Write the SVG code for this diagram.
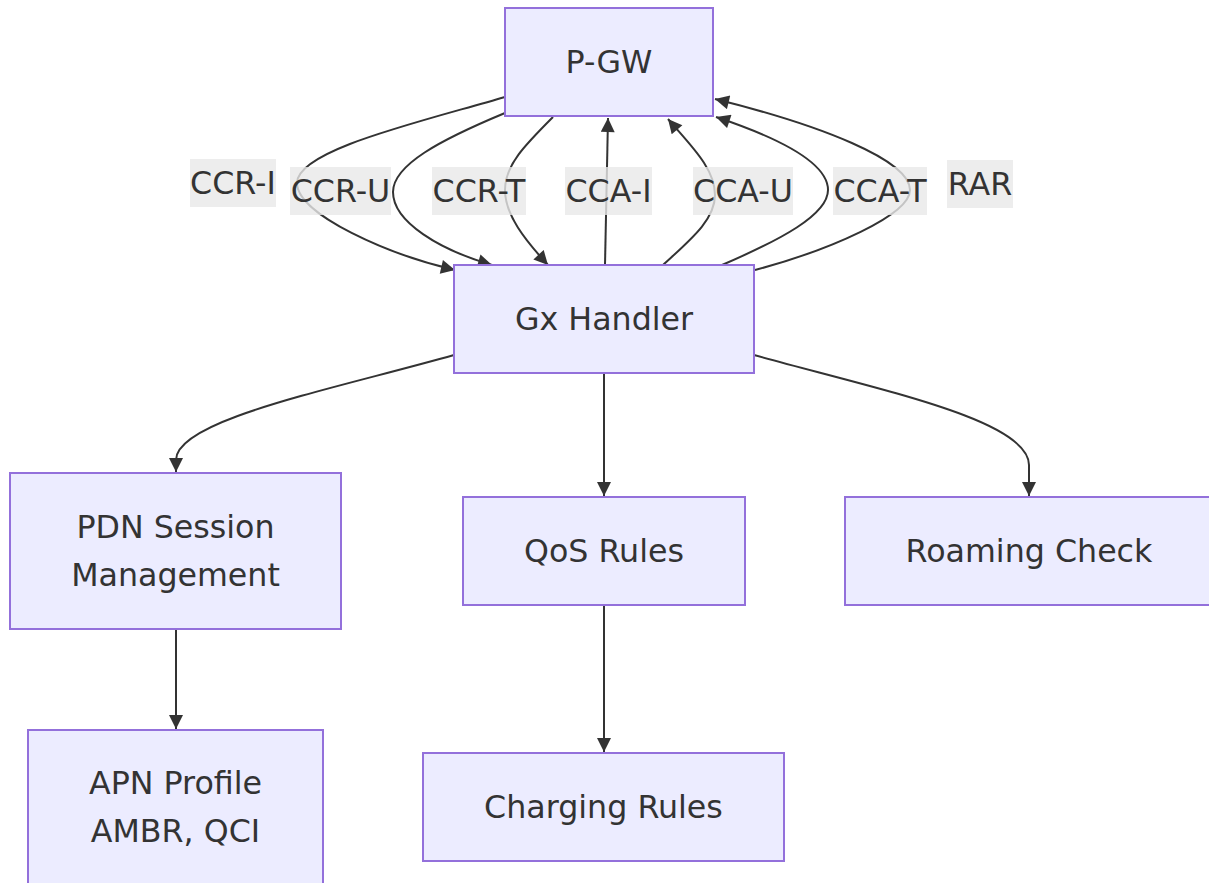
<svg xmlns="http://www.w3.org/2000/svg" width="1209" height="883" viewBox="0 0 1209 883">
<defs>
<style>
.node rect{fill:#ECECFF;stroke:#9370DB;stroke-width:2}
.node text,.label text{font-family:"DejaVu Sans",Verdana,sans-serif;font-size:31.7px;fill:#333;text-anchor:middle;dominant-baseline:central}
.edge{fill:none;stroke:#333;stroke-width:2;marker-end:url(#arrow)}
.label rect{fill:rgba(232,232,232,0.8)}
</style>
<marker id="arrow" viewBox="0 0 10 10" refX="10" refY="5" markerUnits="userSpaceOnUse" markerWidth="16" markerHeight="14" orient="auto">
<path d="M0,0 L10,5 L0,10 z" fill="#333"/>
</marker>
</defs>
<rect width="1209" height="883" fill="#fff"/>
<g id="connectors">
<path class="edge" d="M505,97 C420,122 297,150 297,183 C297,215 390,255 455,270"/>
<path class="edge" d="M505,113 C440,140 393,165 393,192 C393,222 440,250 492,265"/>
<path class="edge" d="M553,117 C525,145 505,165 505,190 C505,215 525,240 548,265"/>
<path class="edge" d="M605,265 L608,118"/>
<path class="edge" d="M663,265 C690,240 715,220 715,195 C715,168 690,145 668,119"/>
<path class="edge" d="M722,265 C780,240 828,215 828,190 C828,160 770,135 716,117"/>
<path class="edge" d="M755,270 C830,250 910,215 910,190 C910,160 820,125 715,99"/>
<path class="edge" d="M454,355 C330,390 176,420 176,460 L176,472"/>
<path class="edge" d="M604,373 L604,496"/>
<path class="edge" d="M754,355 C880,390 1029,420 1029,465 L1029,496"/>
<path class="edge" d="M176,629 L176,729"/>
<path class="edge" d="M604,605 L604,752"/>
</g>
<g id="edge-labels">
<g class="label"><rect x="190" y="159" width="86" height="48"/><text x="233" y="183">CCR-I</text></g>
<g class="label"><rect x="290" y="167" width="101" height="48"/><text x="340.5" y="191">CCR-U</text></g>
<g class="label"><rect x="432" y="167" width="94" height="48"/><text x="479" y="191">CCR-T</text></g>
<g class="label"><rect x="565" y="167" width="87" height="48"/><text x="608.5" y="191">CCA-I</text></g>
<g class="label"><rect x="693" y="167" width="100" height="48"/><text x="743" y="191">CCA-U</text></g>
<g class="label"><rect x="833" y="167" width="94" height="48"/><text x="880" y="191">CCA-T</text></g>
<g class="label"><rect x="947" y="160" width="66" height="48"/><text x="980" y="184">RAR</text></g>
</g>
<g id="pgw" class="node"><rect x="505" y="8" width="208" height="108"/><text x="609" y="62">P-GW</text></g>
<g id="gx" class="node"><rect x="454" y="265" width="300" height="108"/><text x="604" y="319">Gx Handler</text></g>
<g id="pdn" class="node"><rect x="10" y="473" width="331" height="156"/><text x="175.5" y="527">PDN Session</text><text x="175.5" y="575">Management</text></g>
<g id="qos" class="node"><rect x="463" y="497" width="282" height="108"/><text x="604" y="551">QoS Rules</text></g>
<g id="roaming" class="node"><rect x="845" y="497" width="368" height="108"/><text x="1029" y="551">Roaming Check</text></g>
<g id="apn" class="node"><rect x="28" y="730" width="295" height="156"/><text x="175.5" y="783">APN Profile</text><text x="175.5" y="831">AMBR, QCI</text></g>
<g id="charging" class="node"><rect x="423" y="753" width="361" height="108"/><text x="603.5" y="807">Charging Rules</text></g>
</svg>
